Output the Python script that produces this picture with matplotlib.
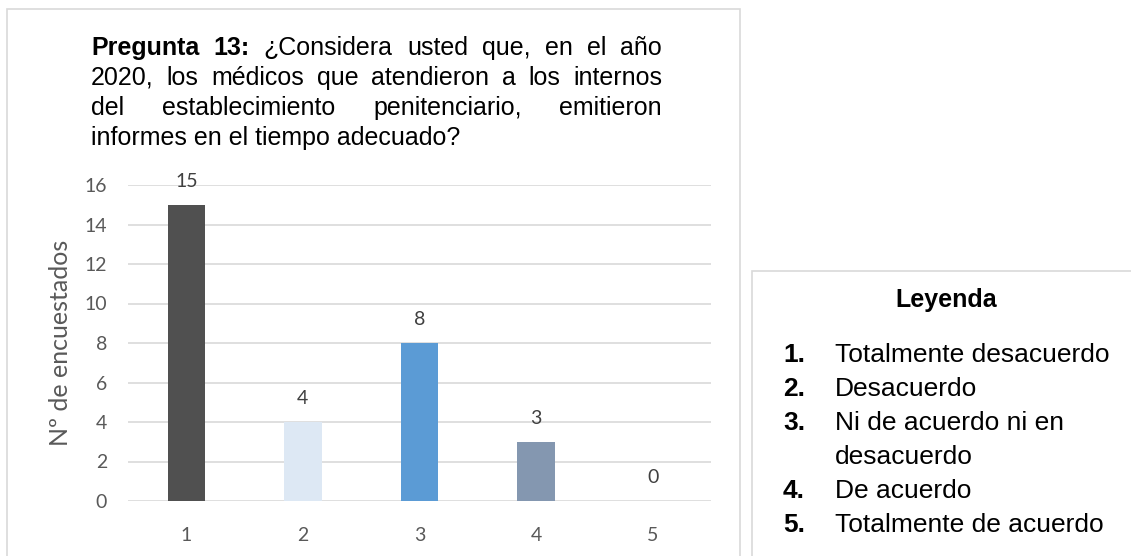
import matplotlib
matplotlib.use("Agg")
import matplotlib.pyplot as plt
from matplotlib.patches import Rectangle

# data
categorias = ["1", "2", "3", "4", "5"]
valores = [15, 4, 8, 3, 0]
colores = ["#505050", "#dde8f4", "#5b9bd5", "#8497b0", "#a5a5a5"]

titulo_lineas = [
    [("Pregunta", True), ("13:", True), ("¿Considera", False), ("usted", False),
     ("que,", False), ("en", False), ("el", False), ("año", False)],
    [("2020,", False), ("los", False), ("médicos", False), ("que", False), ("atendieron", False),
     ("a", False), ("los", False), ("internos", False)],
    [("del", False), ("establecimiento", False), ("penitenciario,", False), ("emitieron", False)],
    [("informes en el tiempo adecuado?", False)],
]

leyenda_num = ["1.", "2.", "3.", "", "4.", "5."]
leyenda_txt = ["Totalmente desacuerdo", "Desacuerdo", "Ni de acuerdo ni en",
               "desacuerdo", "De acuerdo", "Totalmente de acuerdo"]

W, H = 1131, 556
fig = plt.figure(figsize=(W / 100, H / 100), dpi=100)
fig.patch.set_facecolor("white")


def fx(px):
    return px / W


def fy(py):
    return 1 - py / H


# chart frame and legend frame
fig.patches.append(Rectangle((fx(7), fy(600)), fx(740) - fx(7), fy(9) - fy(600),
                             transform=fig.transFigure, fill=False,
                             edgecolor="#d9d9d9", linewidth=1.2))
fig.patches.append(Rectangle((fx(752), fy(600)), fx(1140) - fx(752), fy(271) - fy(600),
                             transform=fig.transFigure, fill=False,
                             edgecolor="#d9d9d9", linewidth=1.2))

# bar axes
ax = fig.add_axes([fx(128), fy(501), fx(711) - fx(128), fy(185) - fy(501)])
x = list(range(len(categorias)))
bars = ax.bar(x, valores, width=0.32, color=colores, zorder=3)
ax.set_xlim(-0.5, len(categorias) - 0.5)
ax.set_ylim(0, 16)
ax.set_yticks(range(0, 17, 2))
ax.set_xticks(x)
ax.set_xticklabels(categorias)
ax.grid(axis="y", color="#d9d9d9", linewidth=1.2, zorder=0)
for s in ax.spines.values():
    s.set_visible(False)
ax.tick_params(length=0, labelsize=14, labelcolor="#595959")
ax.tick_params(axis="x", pad=19)
ax.tick_params(axis="y", pad=15)
for lab in ax.get_xticklabels() + ax.get_yticklabels():
    lab.set_family("Lato")

for xi, v in zip(x, valores):
    ax.annotate(str(v), (xi, v), xytext=(0, 17), textcoords="offset points",
                ha="center", va="center", fontsize=14, color="#404040", family="Lato")

fig.text(fx(60), fy(343), "Nº de encuestados", rotation=90, ha="center", va="center",
         fontsize=18, color="#595959", family="Lato")

# justified title
renderer = fig.canvas.get_renderer()
left, right = 91, 662
baselines = [55, 85, 115, 145]
for i, (linea, base) in enumerate(zip(titulo_lineas, baselines)):
    textos = []
    for palabra, negrita in linea:
        t = fig.text(0, fy(base), palabra, fontsize=18, family="Liberation Sans",
                     fontweight="bold" if negrita else "normal", va="baseline", ha="left")
        textos.append(t)
    anchos = [t.get_window_extent(renderer).width for t in textos]
    if i == len(titulo_lineas) - 1 or len(textos) == 1:
        hueco = 6
    else:
        hueco = (right - left - sum(anchos)) / (len(textos) - 1)
    pos = left
    for t, a in zip(textos, anchos):
        t.set_x(fx(pos))
        pos += a + hueco

# legend text
fig.text(fx(946), fy(307), "Leyenda", fontsize=18, fontweight="bold",
         family="Liberation Sans", ha="center", va="baseline")
for k, (n, txt) in enumerate(zip(leyenda_num, leyenda_txt)):
    yb = 362 + 34 * k
    if n:
        fig.text(fx(783), fy(yb), n, fontsize=19, fontweight="bold",
                 family="Liberation Sans", ha="left", va="baseline")
    fig.text(fx(835), fy(yb), txt, fontsize=19, family="Liberation Sans",
             ha="left", va="baseline")

fig.savefig("out.png", dpi=100)
